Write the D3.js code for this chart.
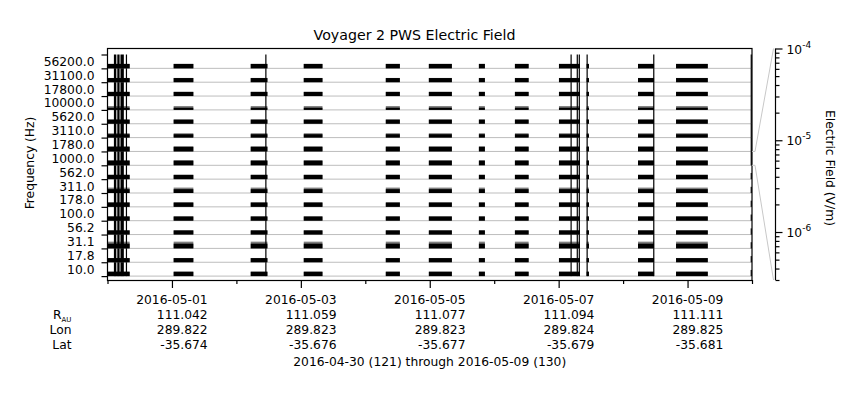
<!DOCTYPE html>
<html><head><meta charset="utf-8">
<script src="https://cdn.jsdelivr.net/npm/d3@7"></script>
<style>
body{margin:0;background:#fff}
svg{display:block}
text{font-family:"DejaVu Sans",sans-serif;fill:#000}
</style>
</head><body>
<svg id="c" width="860" height="400"></svg>
<script>
// ---------------- data ----------------
const title = "Voyager 2 PWS Electric Field";
const channels = ["56200.0","31100.0","17800.0","10000.0","5620.0","3110.0","1780.0","1000.0",
                  "562.0","311.0","178.0","100.0","56.2","31.1","17.8","10.0"];
// typical top of the dense (black) trace per channel, V/m
const blackTop = [1.9e-6,1.7e-6,1.7e-6,7.5e-7,1.7e-6,1.25e-6,2.2e-6,2.2e-6,
                  1.7e-6,1.5e-6,1.7e-6,1.7e-6,1.7e-6,2.2e-6,1.7e-6,1.9e-6];
// top of the sparser (gray) trace per channel, V/m
const grayTop  = [2.0e-6,1.8e-6,1.8e-6,1.5e-6,1.8e-6,1.9e-6,2.4e-6,2.3e-6,
                  2.1e-6,2.9e-6,2.3e-6,2.0e-6,1.8e-6,5.1e-6,1.8e-6,1.9e-6];
// data segments (UTC)
const segStart = ["2016-04-30T00:00","2016-05-01T00:38","2016-05-02T05:20","2016-05-03T01:05",
                  "2016-05-04T07:38","2016-05-04T23:40","2016-05-05T18:18","2016-05-06T07:43",
                  "2016-05-07T00:07","2016-05-07T10:26","2016-05-08T05:33","2016-05-08T19:43"];
const segEnd   = ["2016-04-30T08:15","2016-05-01T07:58","2016-05-02T11:33","2016-05-03T08:03",
                  "2016-05-04T12:52","2016-05-05T08:14","2016-05-05T20:32","2016-05-06T12:49",
                  "2016-05-07T07:56","2016-05-07T11:17","2016-05-08T11:31","2016-05-09T07:32"];
// broadband bursts (UTC) with peak field in upper (>=1000 Hz) and lower channels
const spikeStart = ["2016-04-30T02:23","2016-04-30T03:39","2016-04-30T04:50","2016-04-30T06:50",
                    "2016-05-02T10:45","2016-05-07T04:25","2016-05-07T06:43","2016-05-07T07:28",
                    "2016-05-07T10:23","2016-05-08T11:12","2016-05-09T23:30"];
const spikeEnd   = ["2016-04-30T03:17","2016-04-30T04:30","2016-04-30T06:05","2016-04-30T06:55",
                    "2016-05-02T10:50","2016-05-07T04:30","2016-05-07T06:48","2016-05-07T07:33",
                    "2016-05-07T10:28","2016-05-08T11:17","2016-05-09T23:35"];
const spikePeakHigh = [1e-4,1e-4,1e-4,1e-4,1e-4,1e-4,1e-4,1e-4,1e-4,1e-4,1e-4];
const spikePeakLow  = [1e-4,1e-4,1e-4,1e-4,1e-4,1e-4,1e-4,1e-4,1e-4,1e-4,4e-6];
const majorTicks = ["2016-05-01","2016-05-03","2016-05-05","2016-05-07","2016-05-09"];
const minorTicks = ["2016-04-30","2016-05-02","2016-05-04","2016-05-06","2016-05-08","2016-05-10"];
const rAU = ["111.042","111.059","111.077","111.094","111.111"];
const lon = ["289.822","289.823","289.823","289.824","289.825"];
const lat = ["-35.674","-35.676","-35.677","-35.679","-35.681"];
const footer = "2016-04-30 (121) through 2016-05-09 (130)";
const fieldDomain = [3e-7, 1e-4];
const cbDecades = [1e-4, 1e-5, 1e-6];
const zoomChannel = "1000.0";

// ---------------- layout ----------------
const L = 107.5, R = 752, T = 48, B = 280;
const svg = d3.select("#c");
const P = s => new Date(s + (s.length <= 10 ? "T00:00Z" : "Z"));

const x = d3.scaleUtc().domain([P("2016-04-30"), P("2016-05-10")]).range([L, R]);
const band = d3.scaleBand().domain(channels).range([54.5, 276.1]);
const bh = band.bandwidth();
const v = d3.scaleLog().domain(fieldDomain).range([bh, 0]).clamp(true);
const yv = (c, val) => band(c) + v(val);

// baselines
svg.append("g").selectAll("line").data(channels).join("line")
  .attr("x1", L).attr("x2", R)
  .attr("y1", c => band(c) + bh).attr("y2", c => band(c) + bh)
  .attr("stroke", "#bdbdbd").attr("stroke-width", 1);

// segments
const segs = segStart.map((s, i) => ({s: P(s), e: P(segEnd[i])}));
const gData = svg.append("g");
channels.forEach((c, ci) => {
  gData.append("g").selectAll("rect.g").data(segs).join("rect")
    .attr("x", d => x(d.s)).attr("width", d => Math.max(1, x(d.e) - x(d.s)))
    .attr("y", yv(c, grayTop[ci])).attr("height", band(c) + bh - yv(c, grayTop[ci]))
    .attr("fill", "#7f7f7f");
  gData.append("g").selectAll("rect.b").data(segs).join("rect")
    .attr("x", d => x(d.s)).attr("width", d => Math.max(1, x(d.e) - x(d.s)))
    .attr("y", yv(c, blackTop[ci])).attr("height", band(c) + bh - yv(c, blackTop[ci]))
    .attr("fill", "#000");
});

// spikes
const spikes = spikeStart.map((s, i) => ({s: P(s), e: P(spikeEnd[i]), hi: spikePeakHigh[i], lo: spikePeakLow[i]}));
channels.forEach((c, ci) => {
  gData.append("g").selectAll("rect").data(spikes).join("rect")
    .attr("x", d => x(d.s)).attr("width", d => Math.max(1.2, x(d.e) - x(d.s)))
    .attr("y", d => yv(c, ci <= 7 ? d.hi : d.lo))
    .attr("height", d => band(c) + bh - yv(c, ci <= 7 ? d.hi : d.lo))
    .attr("fill", "#000");
});

// frame
svg.append("rect").attr("x", L).attr("y", T + 0.5).attr("width", R - L).attr("height", B - T)
  .attr("fill", "none").attr("stroke", "#000").attr("stroke-width", 1.2);

// left axis: ticks at band boundaries, labels at band centres
const edges = d3.scaleLinear().domain([0, channels.length]).range([54.5, 276.1]);
svg.append("g").attr("transform", `translate(${L},0)`)
  .call(d3.axisLeft(edges).tickValues(d3.range(channels.length + 1)).tickSize(6).tickFormat(""))
  .call(g => g.select(".domain").remove())
  .call(g => g.selectAll("line").attr("stroke", "#000").attr("stroke-width", 1.2));
svg.append("g").selectAll("text").data(channels).join("text")
  .attr("x", 94.5).attr("y", c => band(c) + bh / 2).attr("dy", "0.36em")
  .attr("text-anchor", "end").attr("font-size", 12.3).text(c => c);
svg.append("text").attr("transform", "translate(34,163) rotate(-90)")
  .attr("text-anchor", "middle").attr("font-size", 12.3).text("Frequency (Hz)");

// bottom axis
svg.append("g").attr("transform", `translate(0,${B})`)
  .call(d3.axisBottom(x).tickValues(majorTicks.map(P)).tickSize(8).tickFormat(""))
  .call(g => g.select(".domain").remove())
  .call(g => g.selectAll("line").attr("stroke", "#000").attr("stroke-width", 1.2));
svg.append("g").attr("transform", `translate(0,${B})`)
  .call(d3.axisBottom(x).tickValues(minorTicks.map(P)).tickSize(4).tickFormat(""))
  .call(g => g.select(".domain").remove())
  .call(g => g.selectAll("line").attr("stroke", "#000").attr("stroke-width", 1.2));

const rowY = [304, 318.7, 334.4, 349.4];
const gl = svg.append("g").attr("font-size", 12.3);
majorTicks.forEach((d, i) => {
  const tx = x(P(d));
  const t0 = gl.append("text").attr("x", tx).attr("y", rowY[0]).attr("text-anchor", "middle").text(d);
  const w = t0.node().getComputedTextLength();
  [rAU, lon, lat].forEach((arr, k) => {
    gl.append("text").attr("x", tx + w / 2).attr("y", rowY[k + 1]).attr("text-anchor", "end").text(arr[i]);
  });
});
const rl = gl.append("text").attr("x", 71.5).attr("y", rowY[1]).attr("text-anchor", "end");
rl.append("tspan").text("R");
rl.append("tspan").attr("font-size", 7).attr("dy", 3).text("AU");
gl.append("text").attr("x", 71.5).attr("y", rowY[2]).attr("text-anchor", "end").text("Lon");
gl.append("text").attr("x", 71.5).attr("y", rowY[3]).attr("text-anchor", "end").text("Lat");
gl.append("text").attr("x", (L + R) / 2).attr("y", 366).attr("text-anchor", "middle").text(footer);

// title
svg.append("text").attr("x", 414.5).attr("y", 40).attr("text-anchor", "middle")
  .attr("font-size", 14.2).text(title);

// field axis with the zoom indicator
const CX = 775.5;
const cb = d3.scaleLog().domain(fieldDomain).range([B, T + 0.5]);
const minor = [];
[1e-7, 1e-6, 1e-5].forEach(dec => { for (let k = 2; k <= 9; k++) { const val = dec * k; if (val >= fieldDomain[0] && val <= fieldDomain[1]) minor.push(val); } });
svg.append("g").attr("transform", `translate(${CX},0)`)
  .call(d3.axisRight(cb).tickValues(cbDecades).tickSize(7).tickFormat(""))
  .call(g => g.select(".domain").attr("d", `M0,${B}V${T + 0.5}`).attr("stroke", "#000").attr("stroke-width", 1.2))
  .call(g => g.selectAll("line").attr("stroke", "#000").attr("stroke-width", 1.2));
svg.append("g").attr("transform", `translate(${CX},0)`)
  .call(d3.axisRight(cb).tickValues(minor).tickSize(4).tickFormat(""))
  .call(g => g.select(".domain").remove())
  .call(g => g.selectAll("line").attr("stroke", "#000").attr("stroke-width", 1.2));
cbDecades.forEach(val => {
  const t = svg.append("text").attr("x", CX + 11).attr("y", cb(val) + 5).attr("font-size", 12.3);
  t.append("tspan").text("10");
  t.append("tspan").attr("font-size", 9).attr("dy", -6).text(String(Math.round(Math.log10(val))));
});
svg.append("text").attr("transform", "translate(826,168) rotate(90)")
  .attr("text-anchor", "middle").attr("font-size", 12.3).text("Electric Field (V/m)");

const zt = band(zoomChannel), zb = band(zoomChannel) + bh;
svg.append("path").attr("fill", "none").attr("stroke", "#c8c8c8").attr("stroke-width", 1)
  .attr("d", `M${R},${zt}H${R + 3}L${CX - 2},${T + 0.5}M${R},${zb}H${R + 3}L${CX - 2},${B}`);
</script>
</body></html>
